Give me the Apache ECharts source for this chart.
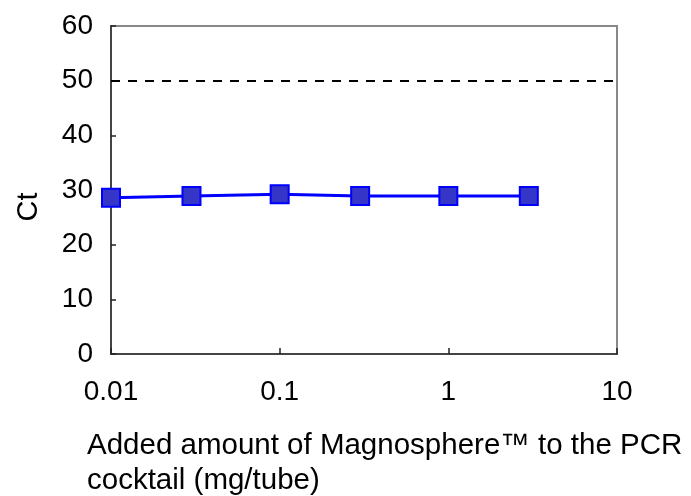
<!DOCTYPE html>
<html>
<head>
<meta charset="utf-8">
<script src="https://cdn.jsdelivr.net/npm/echarts@6/dist/echarts.min.js"></script>
</head>
<body style="margin:0;background:#fff">
<div id="main" style="width:691px;height:496px"></div>
<script>
// data
var amounts = [0.01, 0.03, 0.1, 0.3, 1, 3];
var ctValues = [28.6, 28.9, 29.2, 28.9, 28.9, 28.9];
var refLine = 50;

var chart = echarts.init(document.getElementById('main'));
var pts = amounts.map(function (a, i) { return [a, ctValues[i]]; });

var option = {
    animation: false,
    textStyle: { fontFamily: 'Liberation Sans, Arial, sans-serif' },
    grid: {
        left: 111, right: 74, top: 26, bottom: 142,
        show: true, borderColor: '#888', borderWidth: 2
    },
    xAxis: {
        type: 'log', logBase: 10, min: 0.01, max: 10,
        axisLine: { lineStyle: { color: '#444', width: 2 } },
        axisTick: { inside: true, length: 6, lineStyle: { color: '#222', width: 1.5 } },
        splitLine: { show: false },
        minorTick: { show: false },
        axisLabel: {
            color: '#000', fontSize: 28, margin: 24,
            formatter: function (v) { return String(+v.toPrecision(3)); }
        }
    },
    yAxis: {
        type: 'value', min: 0, max: 60, interval: 10,
        axisLine: { show: true, lineStyle: { color: '#444', width: 2 } },
        axisTick: { show: true, inside: true, length: 5, lineStyle: { color: '#222', width: 1.5 } },
        splitLine: { show: false },
        axisLabel: { color: '#000', fontSize: 28, margin: 18 }
    },
    graphic: [{
        type: 'text', x: 29, y: 207, rotation: Math.PI / 2,
        style: {
            text: 'Ct', align: 'center', verticalAlign: 'middle',
            font: '29px "Liberation Sans", Arial, sans-serif', fill: '#000'
        }
    }, {
        type: 'text', left: 87, top: 428,
        style: {
            text: 'Added amount of Magnosphere™ to the PCR\ncocktail (mg/tube)',
            font: '29.5px "Liberation Sans", Arial, sans-serif',
            fill: '#000', lineHeight: 35
        }
    }],
    series: [{
        type: 'line',
        data: pts,
        clip: false,
        symbol: 'rect', symbolSize: 18,
        lineStyle: { color: '#0000ff', width: 3 },
        itemStyle: { color: '#3535c8', borderColor: '#0000ff', borderWidth: 2 },
        markLine: {
            silent: true, symbol: 'none', label: { show: false },
            lineStyle: { color: '#000', type: [9, 8], width: 2 },
            data: [{ yAxis: refLine }]
        }
    }]
};
chart.setOption(option);
</script>
</body>
</html>
